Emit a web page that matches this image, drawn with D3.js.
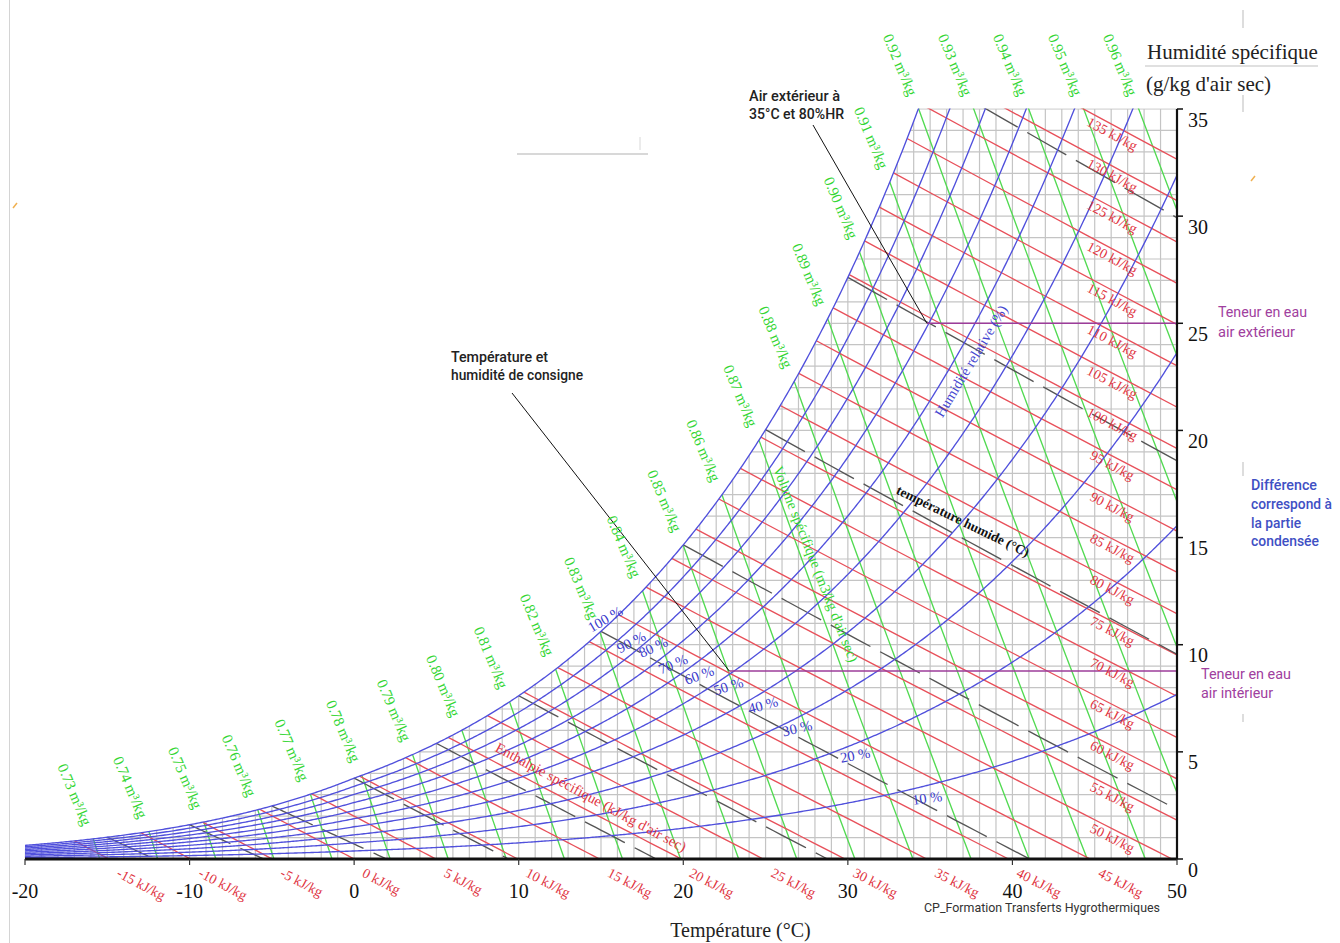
<!DOCTYPE html>
<html><head><meta charset="utf-8">
<script src="https://cdn.jsdelivr.net/npm/d3@7"></script>
<style>
html,body{margin:0;padding:0;background:#fff;}
svg{display:block;}
</style></head><body>
<svg id="chart" width="1340" height="943"></svg>
<script>
// ---------------- data ----------------
const tempTicks = [-20, -10, 0, 10, 20, 30, 40, 50];            // °C
const humidityTicks = [0, 5, 10, 15, 20, 25, 30, 35];           // g/kg
const rhLevels = [10, 20, 30, 40, 50, 60, 70, 80, 90, 100];     // %
const enthalpyLevels = [-15, -10, -5, 0, 5, 10, 15, 20, 25, 30, 35, 40, 45, 50, 55, 60, 65, 70,
                        75, 80, 85, 90, 95, 100, 105, 110, 115, 120, 125, 130, 135]; // kJ/kg
const volumeLevels = [0.73, 0.74, 0.75, 0.76, 0.77, 0.78, 0.79, 0.80, 0.81, 0.82, 0.83, 0.84,
                      0.85, 0.86, 0.87, 0.88, 0.89, 0.90, 0.91, 0.92, 0.93, 0.94, 0.95, 0.96]; // m3/kg
const wetBulbLevels = [-15, -10, -5, 0, 5, 10, 15, 20, 25, 30, 35]; // °C
const rhLabelValues = [100, 90, 80, 70, 60, 50, 40, 30, 20, 10];
const rhLabelT = [15.25, 16.83, 18.17, 19.38, 20.96, 22.73, 24.85, 26.92, 30.44, 34.82];
const rhLabelW = [11.2, 10.13, 9.89, 9.10, 8.59, 8.07, 7.19, 6.11, 4.85, 2.85];
const stateNames = ["extérieur", "intérieur"];
const stateT = [34.8, 22.8];
const stateW = [25.0, 8.77];
const pressure = 101.325; // kPa

// ---------------- psychrometrics ----------------
const P = pressure;
function psat(T){ return T >= 0 ? 0.61094*Math.exp(17.625*T/(T+243.04)) : 0.61115*Math.exp(22.452*T/(272.55+T)); }
function wFromPv(pv){ return 622*pv/(P - pv); }
function wRH(T, phi){ return wFromPv(phi*psat(T)); }
function wSat(T){ return wRH(T, 1); }
function hOf(T, w){ return 1.006*T + w/1000*(2501 + 1.86*T); }
function vOf(T, w){ return 0.287042*(T+273.15)*(1 + 1.6078*w/1000)/P; }
function wWB(T, Twb){
  const ws = wSat(Twb)/1000; let W;
  if (Twb >= 0) W = ((2501 - 2.326*Twb)*ws - 1.006*(T - Twb))/(2501 + 1.86*T - 4.186*Twb);
  else W = ((2830 - 0.24*Twb)*ws - 1.006*(T - Twb))/(2830 + 1.86*T - 2.1*Twb);
  return W*1000;
}
function solve(f, lo, hi){
  for (let i = 0; i < 70; i++){ const m = (lo+hi)/2; if (f(lo)*f(m) <= 0) hi = m; else lo = m; }
  return (lo+hi)/2;
}

// ---------------- scales ----------------
const x = d3.scaleLinear().domain([-20, 50]).range([25, 1177]);
const y = d3.scaleLinear().domain([0, 35]).range([859, 109]);
const lineGen = d3.line().x(d => x(d[0])).y(d => y(d[1]));

const svg = d3.select('#chart');
const SERIF = "'Liberation Serif','Times New Roman',serif";
const SANS = "Roboto,'Liberation Sans',Arial,sans-serif";
const C = { blue: '#5050dc', red: '#e8505a', green: '#52da52', wb: '#555555', grid: '#c4c4c4',
            redText: '#e0343f', greenText: '#33d633', blueText: '#3a3acc', purple: '#9c3c9a' };

// decorations (frame remnants)
const deco = svg.append('g');
deco.append('line').attr('x1', 9.5).attr('x2', 9.5).attr('y1', 0).attr('y2', 943).attr('stroke', '#d4d4d4');
deco.append('line').attr('x1', 517).attr('x2', 648).attr('y1', 154).attr('y2', 154).attr('stroke', '#d8d8d8').attr('stroke-width', 2);
deco.append('line').attr('x1', 640).attr('x2', 640).attr('y1', 137).attr('y2', 150).attr('stroke', '#d8d8d8');
deco.append('line').attr('x1', 1145).attr('x2', 1318).attr('y1', 66).attr('y2', 66).attr('stroke', '#d6d6d6').attr('stroke-width', 1.5);
[[10, 28], [95, 112], [462, 476], [714, 722]].forEach(s => deco.append('line').attr('x1', 1243).attr('x2', 1243)
  .attr('y1', s[0]).attr('y2', s[1]).attr('stroke', '#d2d2d2').attr('stroke-width', 1.5));
deco.append('line').attr('x1', 13).attr('y1', 208).attr('x2', 17).attr('y2', 203).attr('stroke', '#f0b050').attr('stroke-width', 1.5);
deco.append('line').attr('x1', 1251).attr('y1', 181).attr('x2', 1255).attr('y2', 176).attr('stroke', '#f0b050').attr('stroke-width', 1.5);

// clip paths
const defs = svg.append('defs');
defs.append('clipPath').attr('id', 'plotClip').append('rect')
  .attr('x', x(-20)).attr('y', y(35) - 0.5).attr('width', x(50) - x(-20)).attr('height', y(0) - y(35) + 0.5);
const sampleT = d3.range(-20, 50.0001, 0.1);
const gridPoly = sampleT.map(T => [T, Math.min(wSat(T), 35.03)]);
gridPoly.push([50.03, Math.min(wSat(50), 35.03)], [50.03, 0], [-20.03, 0]);
defs.append('clipPath').attr('id', 'gridClip').append('path').attr('d', lineGen(gridPoly) + 'Z');

// grid
const grid = svg.append('g').attr('clip-path', 'url(#gridClip)');
grid.selectAll('line.v').data(x.ticks(70)).join('line').attr('class', 'v')
  .attr('x1', d => x(d)).attr('x2', d => x(d)).attr('y1', y(0)).attr('y2', y(35))
  .attr('stroke', C.grid).attr('stroke-width', 1.2);
grid.selectAll('line.h').data(y.ticks(35)).join('line').attr('class', 'h')
  .attr('x1', x(-20)).attr('x2', x(50)).attr('y1', d => y(d)).attr('y2', d => y(d))
  .attr('stroke', C.grid).attr('stroke-width', 1.2);

const plot = svg.append('g').attr('clip-path', 'url(#plotClip)');

// volume lines
const volInfo = volumeLevels.map(v => {
  const Ts = solve(T => vOf(T, wSat(T)) - v, -40, 60);
  const ws = wSat(Ts);
  const Tv = w => v*P/(0.287042*(1 + 1.6078*w/1000)) - 273.15;
  const pts = d3.range(0, 31).map(i => { const w = ws*(1 - i/30); return [Tv(w), w]; });
  const wTop = Math.min(ws, 35);
  return { v, pts, top: [Tv(wTop), wTop] };
});
plot.selectAll('path.vol').data(volInfo).join('path').attr('class', 'vol')
  .attr('d', d => lineGen(d.pts)).attr('fill', 'none').attr('stroke', C.green).attr('stroke-width', 1.35);

// enthalpy lines
const Th = (h, w) => (h - 2.501*w)/(1.006 + 0.00186*w);
const hInfo = enthalpyLevels.map(h => {
  const Ts = solve(T => hOf(T, wSat(T)) - h, -40, 70);
  const ws = wSat(Ts);
  const pts = d3.range(0, 31).map(i => { const w = ws*(1 - i/30); return [Th(h, w), w]; });
  return { h, pts };
});
plot.selectAll('path.enth').data(hInfo).join('path').attr('class', 'enth')
  .attr('d', d => lineGen(d.pts)).attr('fill', 'none').attr('stroke', C.red).attr('stroke-width', 1.35);

// wet-bulb lines
const wbInfo = wetBulbLevels.map(t => {
  const ws = wSat(t)/1000;
  const T0 = t >= 0 ? t + (2501 - 2.326*t)*ws/1.006 : t + (2830 - 0.24*t)*ws/1.006;
  const pts = d3.range(0, 41).map(i => { const T = t + (T0 - t)*i/40; return [T, Math.max(0, wWB(T, t))]; });
  return { t, pts };
});
plot.selectAll('path.wb').data(wbInfo).join('path').attr('class', 'wb')
  .attr('d', d => lineGen(d.pts)).attr('fill', 'none').attr('stroke', C.wb).attr('stroke-width', 1.35)
  .attr('stroke-dasharray', '45,11');

// relative humidity curves
plot.selectAll('path.rh').data(rhLevels).join('path').attr('class', 'rh')
  .attr('d', phi => lineGen(sampleT.map(T => [T, wRH(T, phi/100)])))
  .attr('fill', 'none').attr('stroke', C.blue).attr('stroke-width', 1.35);

// state points: horizontal water content lines + leader lines
const states = stateNames.map((n, i) => ({ n, T: stateT[i], w: stateW[i] }));
svg.selectAll('line.state').data(states).join('line').attr('class', 'state')
  .attr('x1', d => x(d.T)).attr('x2', x(50)).attr('y1', d => y(d.w)).attr('y2', d => y(d.w))
  .attr('stroke', C.purple).attr('stroke-width', 1.6);
const leaderStart = [[813, 125], [512, 393]];
svg.selectAll('line.leader').data(states).join('line').attr('class', 'leader')
  .attr('x1', (d, i) => leaderStart[i][0]).attr('y1', (d, i) => leaderStart[i][1])
  .attr('x2', d => x(d.T)).attr('y2', d => y(d.w)).attr('stroke', '#111').attr('stroke-width', 1);

// axes
svg.append('line').attr('x1', x(-20)).attr('x2', x(50)).attr('y1', y(0)).attr('y2', y(0))
  .attr('stroke', '#111').attr('stroke-width', 3);
svg.append('line').attr('x1', x(50)).attr('x2', x(50)).attr('y1', y(35)).attr('y2', y(0))
  .attr('stroke', '#111').attr('stroke-width', 2.2);
svg.selectAll('line.xt').data(tempTicks).join('line').attr('class', 'xt')
  .attr('x1', d => x(d)).attr('x2', d => x(d)).attr('y1', y(0)).attr('y2', y(0) + 6)
  .attr('stroke', '#333').attr('stroke-width', 1.2);
svg.selectAll('text.xt').data(tempTicks).join('text').attr('class', 'xt')
  .attr('x', d => x(d)).attr('y', y(0) + 39).attr('text-anchor', 'middle')
  .attr('font-family', SERIF).attr('font-size', 20).attr('fill', '#111').text(d => d);
svg.selectAll('line.yt').data(humidityTicks).join('line').attr('class', 'yt')
  .attr('x1', x(50)).attr('x2', x(50) + 6).attr('y1', d => y(d)).attr('y2', d => y(d))
  .attr('stroke', '#111').attr('stroke-width', 1.5);
svg.selectAll('text.yt').data(humidityTicks).join('text').attr('class', 'yt')
  .attr('x', x(50) + 11).attr('y', d => y(d) + 17.5)
  .attr('font-family', SERIF).attr('font-size', 20).attr('fill', '#111').text(d => d);

// axis titles
svg.append('text').attr('x', 1147).attr('y', 59).attr('font-family', SERIF).attr('font-size', 21)
  .attr('fill', '#222').text('Humidité spécifique');
svg.append('text').attr('x', 1146).attr('y', 91).attr('font-family', SERIF).attr('font-size', 21)
  .attr('fill', '#222').text("(g/kg d'air sec)");
svg.append('text').attr('x', 740.5).attr('y', 937).attr('text-anchor', 'middle').attr('font-family', SERIF)
  .attr('font-size', 20).attr('fill', '#222').text('Température (°C)');

// enthalpy labels
function angleOf(h, w){
  const a = [x(Th(h, w)), y(w)], b = [x(Th(h, w - 1)), y(w - 1)];
  return Math.atan2(b[1] - a[1], b[0] - a[0])*180/Math.PI;
}
const hLab = svg.append('g').attr('font-family', SERIF).attr('font-size', 14).attr('fill', C.redText);
enthalpyLevels.forEach(h => {
  if (h >= 50){
    const Tl = 46.3;
    const wl = (h - 1.006*Tl)/(2501 + 1.86*Tl)*1000;
    hLab.append('text').attr('transform', `translate(${x(Tl)},${y(wl)}) rotate(${angleOf(h, wl)})`)
      .attr('y', 13).attr('text-anchor', 'middle').text(`${h} kJ/kg`);
  } else {
    const T0 = h/1.006;
    hLab.append('text').attr('transform', `translate(${x(T0) + 7},${y(0) + 17}) rotate(${angleOf(h, 1)})`)
      .text(`${h} kJ/kg`);
  }
});

// volume labels
const va = 67*Math.PI/180;
svg.append('g').attr('font-family', SERIF).attr('font-size', 15).attr('fill', C.greenText)
  .selectAll('text').data(volInfo).join('text')
  .attr('transform', d => `translate(${x(d.top[0]) - 48*Math.cos(va)},${y(d.top[1]) - 48*Math.sin(va)}) rotate(67)`)
  .attr('text-anchor', 'middle').attr('dy', '0.33em').text(d => `${d.v.toFixed(2)} m³/kg`);

// RH labels
svg.append('g').attr('font-family', SERIF).attr('font-size', 14.5).attr('fill', C.blueText)
  .selectAll('text').data(rhLabelValues).join('text')
  .attr('transform', (d, i) => `translate(${x(rhLabelT[i])},${y(rhLabelW[i])}) rotate(${-8 - 22*(d - 10)/90})`)
  .attr('text-anchor', 'middle').attr('dy', '0.35em').text(d => `${d} %`);

// inner curve family names
function rotText(txt, cx, cy, ang, opts){
  const t = svg.append('text').attr('transform', `translate(${cx},${cy}) rotate(${ang})`)
    .attr('text-anchor', 'middle').attr('dy', '0.35em').attr('font-family', SERIF)
    .attr('font-size', opts.size).attr('fill', opts.fill).text(txt);
  if (opts.bold) t.attr('font-weight', 'bold');
}
rotText('Humidité relative (%)', 971, 361, -59, { size: 14.5, fill: '#4444d0' });
rotText('température humide (°C)', 963, 521, 26, { size: 13.5, fill: '#111', bold: true });
rotText("Volume spécifique (m3/kg d'air sec)", 816, 564, 68.5, { size: 14.5, fill: C.greenText });
rotText("Enthalpie spécifique (kJ/kg d'air sec)", 591, 797, 28.3, { size: 14.5, fill: C.redText });

// annotations
function note(txt, px, py, len, size, fill, weight){
  svg.append('text').attr('x', px).attr('y', py).attr('font-family', SANS).attr('font-size', size)
    .attr('font-weight', weight).attr('fill', fill).attr('textLength', len)
    .attr('lengthAdjust', 'spacingAndGlyphs').text(txt);
}
note('Air extérieur à', 749, 100.5, 91, 15, '#222', 500);
note('35°C et 80%HR', 749, 119, 95, 15, '#222', 500);
note('Température et', 451, 361.5, 97, 15, '#222', 500);
note('humidité de consigne', 451, 380, 132, 15, '#222', 500);
note('Teneur en eau', 1218, 317, 89, 15, '#a0409e', 400);
note('air extérieur', 1218, 336.5, 77, 15, '#a0409e', 400);
note('Teneur en eau', 1201, 679, 90, 15, '#a0409e', 400);
note('air intérieur', 1201, 698, 72, 15, '#a0409e', 400);
note('Différence', 1251, 490, 66, 14, '#3f50c4', 500);
note('correspond à', 1251, 509, 81, 14, '#3f50c4', 500);
note('la partie', 1251, 527.5, 50, 14, '#3f50c4', 500);
note('condensée', 1251, 546, 68, 14, '#3f50c4', 500);
note('CP_Formation Transferts Hygrothermiques', 924, 912, 236, 13, '#333', 400);
</script>
</body></html>
